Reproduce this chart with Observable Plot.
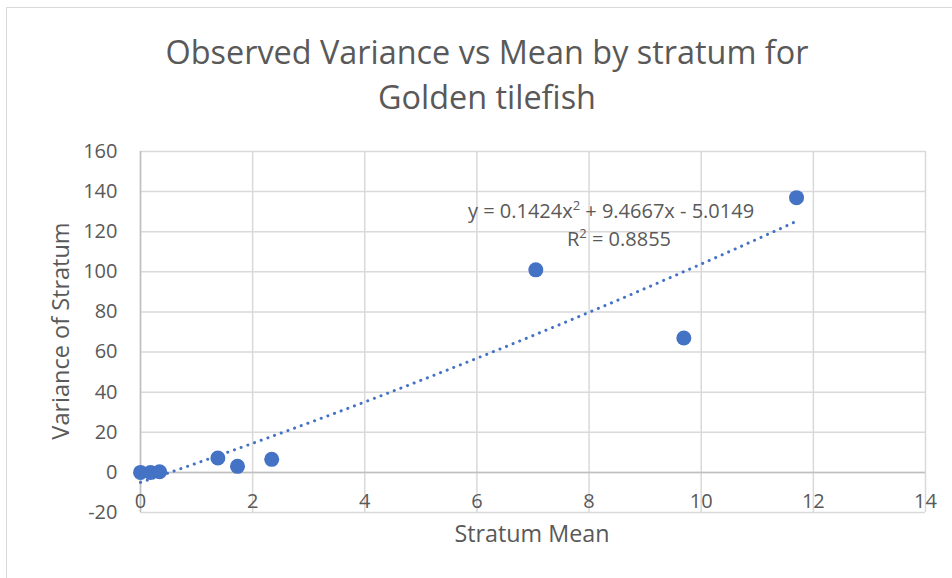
<!DOCTYPE html>
<html>
<head>
<meta charset="utf-8">
<script src="https://cdn.jsdelivr.net/npm/d3@7"></script>
<script src="https://cdn.jsdelivr.net/npm/@observablehq/plot@0.6"></script>
<style>
  html, body { margin: 0; padding: 0; background: #fff; }
  #wrap { position: relative; width: 952px; height: 578px; overflow: hidden; font-family: "Open Sans", sans-serif; color: #595959; }
  #border { position: absolute; left: 6px; top: 7px; width: 960px; height: 600px; border-top: 1.5px solid #d9d9d9; border-left: 1.5px solid #d9d9d9; }
  .lbl { position: absolute; white-space: nowrap; color: #595959; }
  #title { left: 0; width: 974px; top: 29px; text-align: center; font-size: 32.4px; line-height: 45px; }
  #xlab { left: 532px; top: 533px; transform: translate(-50%, -50%); font-size: 23.3px; }
  #ylab { left: 60px; top: 331px; transform: translate(-50%, -50%) rotate(-90deg); font-size: 23.5px; }
  #eq1 { left: 611px; top: 210px; transform: translate(-50%, -50%); font-size: 20px; }
  #eq2 { left: 619px; top: 238px; transform: translate(-50%, -50%); font-size: 20px; }
  sup { font-size: 13px; vertical-align: 8px; line-height: 0; }
  #chart { position: absolute; left: 0; top: 0; }
</style>
</head>
<body>
<div id="wrap">
  <div id="border"></div>
  <div id="chart"></div>
  <div id="title" class="lbl">Observed Variance vs Mean by stratum for<br>Golden tilefish</div>
  <div id="xlab" class="lbl">Stratum Mean</div>
  <div id="ylab" class="lbl">Variance of Stratum</div>
  <div id="eq1" class="lbl">y = 0.1424x<sup>2</sup> + 9.4667x - 5.0149</div>
  <div id="eq2" class="lbl">R<sup>2</sup> = 0.8855</div>
</div>
<script>
// Data
const strataMeans = [0, 0.18, 0.34, 1.38, 1.73, 2.34, 7.05, 9.69, 11.70];
const strataVariances = [0, 0, 0.3, 7.2, 3.0, 6.5, 101, 67, 137];
const xTicks = [0, 2, 4, 6, 8, 10, 12, 14];
const yTicks = [-20, 0, 20, 40, 60, 80, 100, 120, 140, 160];
// Polynomial (order 2) trendline coefficients shown on chart: a, b, c
const trendCoef = [0.1424, 9.4667, -5.0149];

const points = strataMeans.map((m, i) => ({mean: m, variance: strataVariances[i]}));
const xMax = d3.max(strataMeans);
const trend = d3.range(0, xMax + 1e-9, 0.05).concat([xMax]).map(x => ({
  x, y: trendCoef[0] * x * x + trendCoef[1] * x + trendCoef[2]
}));

const chart = Plot.plot({
  width: 952,
  height: 578,
  marginLeft: 140,
  marginRight: 27,
  marginTop: 151,
  marginBottom: 66,
  style: {fontFamily: "'Open Sans', sans-serif", fontSize: "20px", color: "#595959", background: "transparent"},
  x: {domain: [0, 14]},
  y: {domain: [-20, 160]},
  marks: [
    Plot.gridX(xTicks, {stroke: "#d9d9d9", strokeOpacity: 1, strokeWidth: 1.5}),
    Plot.gridY(yTicks, {stroke: "#d9d9d9", strokeOpacity: 1, strokeWidth: 1.5}),
    Plot.ruleY([0], {stroke: "#bfbfbf", strokeWidth: 1.5}),
    Plot.ruleX([0], {stroke: "#bfbfbf", strokeWidth: 1.5}),
    Plot.axisY(yTicks, {anchor: "left", tickSize: 0, tickPadding: 23, label: null, fill: "#595959", fontSize: 20, tickFormat: d => String(d)}),
    Plot.axisX(xTicks, {anchor: "bottom", tickSize: 0, tickPadding: 0, dy: -19, label: null, fill: "#595959", fontSize: 20, tickFormat: d => String(d)}),
    Plot.line(trend, {x: "x", y: "y", stroke: "#4472c4", strokeWidth: 3, strokeDasharray: "0.1 7", strokeLinecap: "round"}),
    Plot.dot(points, {x: "mean", y: "variance", r: 7.5, fill: "#4472c4", stroke: "none"})
  ]
});
document.getElementById("chart").appendChild(chart);
</script>
</body>
</html>
